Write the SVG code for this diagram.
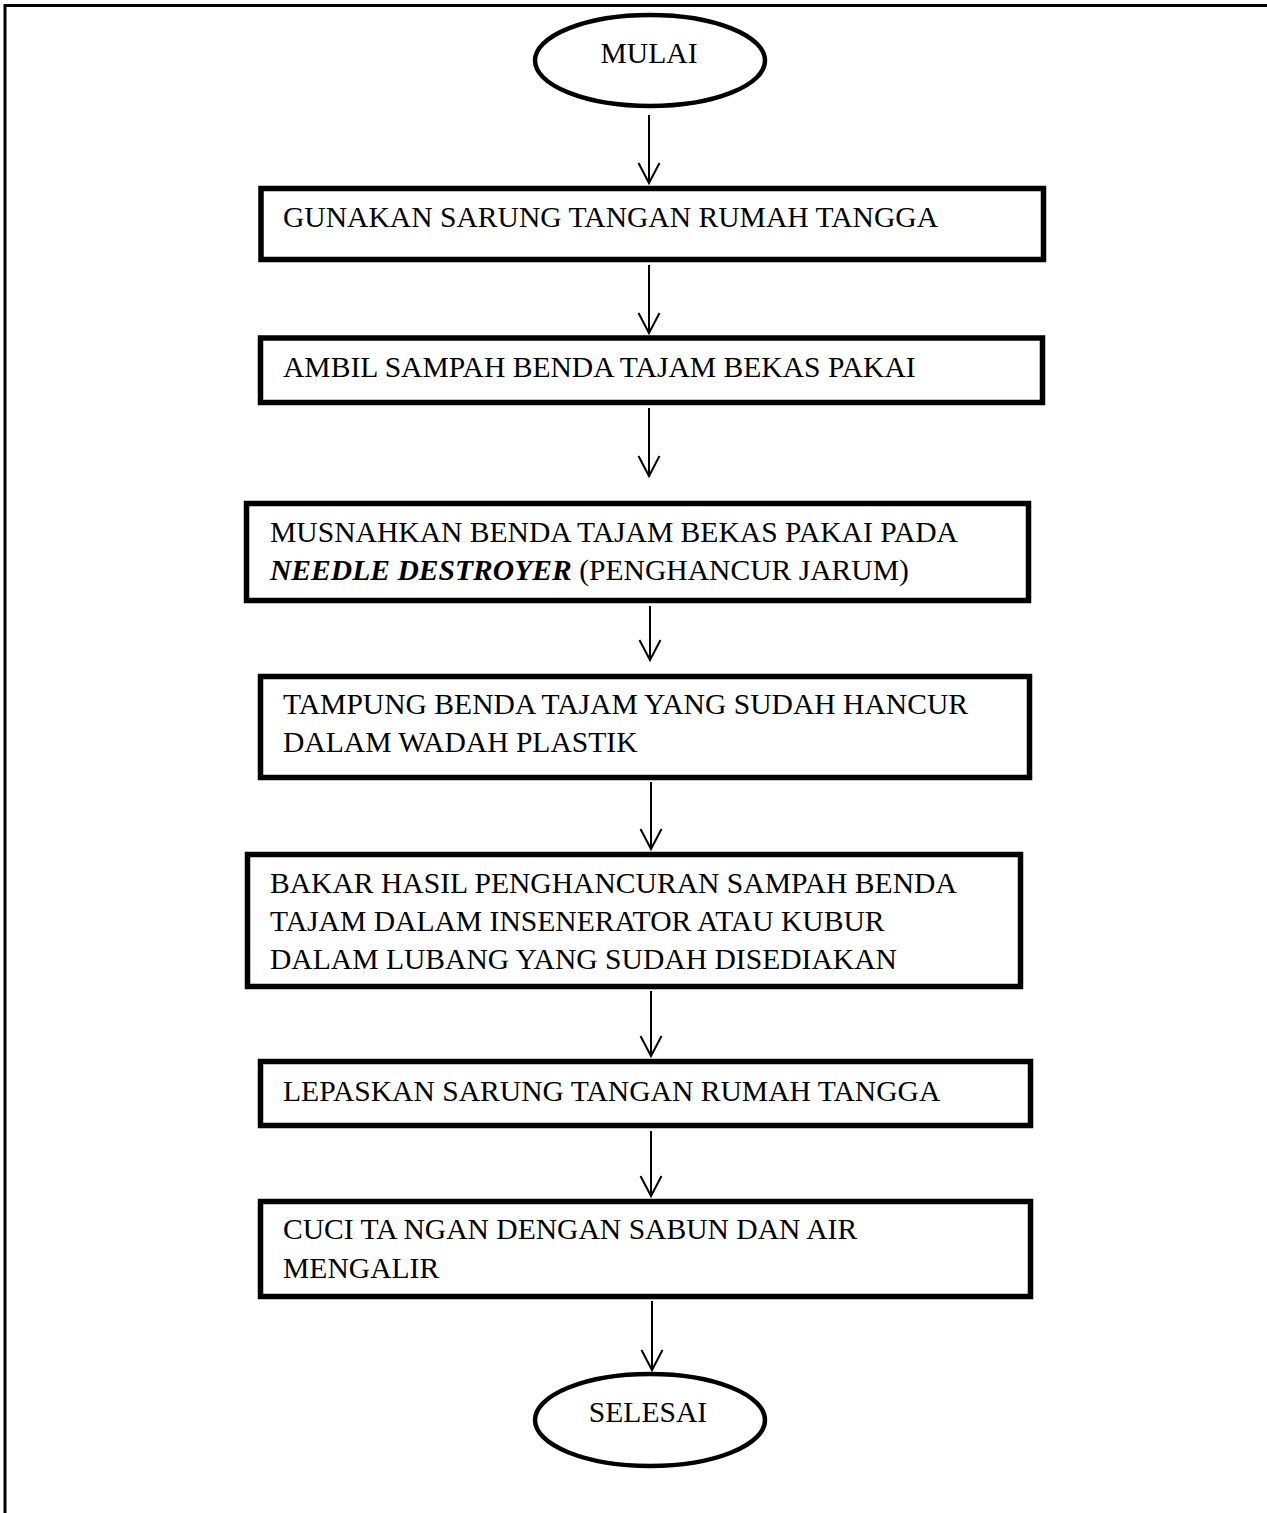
<svg xmlns="http://www.w3.org/2000/svg" width="1267" height="1513" viewBox="0 0 1267 1513">
<style>
.box{fill:#fff;stroke:#000;stroke-width:5.5}
.term{fill:#fff;stroke:#000;stroke-width:4.5}
.t{font-family:"Liberation Serif","Times New Roman",serif;font-size:29.6px;fill:#000}
.c{stroke:#000;stroke-width:2;fill:none}
.frame{stroke:#000;stroke-width:3;fill:none}
</style>
<defs>
<marker id="ah" markerUnits="userSpaceOnUse" orient="auto" refX="0" refY="0" markerWidth="30" markerHeight="30" overflow="visible">
<path d="M-20,-10.5 L0,0 L-20,10.5" fill="none" stroke="#000" stroke-width="2"/>
</marker>
</defs>
<rect width="1267" height="1513" fill="#fff"/>
<path class="frame" d="M5,1513 L5,5.5 L1267,5.5"/>
<g id="connectors">
<line class="c" x1="649" y1="115" x2="649" y2="183" marker-end="url(#ah)"/>
<line class="c" x1="649" y1="265" x2="649" y2="333" marker-end="url(#ah)"/>
<line class="c" x1="649" y1="408" x2="649" y2="476" marker-end="url(#ah)"/>
<line class="c" x1="650" y1="606" x2="650" y2="660" marker-end="url(#ah)"/>
<line class="c" x1="651" y1="782" x2="651" y2="849" marker-end="url(#ah)"/>
<line class="c" x1="651" y1="991" x2="651" y2="1056" marker-end="url(#ah)"/>
<line class="c" x1="651" y1="1131" x2="651" y2="1196" marker-end="url(#ah)"/>
<line class="c" x1="652" y1="1301" x2="652" y2="1370" marker-end="url(#ah)"/>
</g>
<g id="start">
<ellipse class="term" cx="650" cy="60.5" rx="115" ry="45.5"/>
<text class="t" x="649" y="63" text-anchor="middle">MULAI</text>
</g>
<g id="step1">
<rect class="box" x="261" y="188.5" width="782.5" height="71"/>
<text class="t" x="283" y="227">GUNAKAN SARUNG TANGAN RUMAH TANGGA</text>
</g>
<g id="step2">
<rect class="box" x="260.5" y="338" width="782" height="64.5"/>
<text class="t" x="283" y="377">AMBIL SAMPAH BENDA TAJAM BEKAS PAKAI</text>
</g>
<g id="step3">
<rect class="box" x="246.5" y="503.5" width="782" height="97"/>
<text class="t" x="270" y="542">MUSNAHKAN BENDA TAJAM BEKAS PAKAI PADA</text>
<text class="t" x="270" y="580"><tspan font-weight="bold" font-style="italic">NEEDLE DESTROYER</tspan> (PENGHANCUR JARUM)</text>
</g>
<g id="step4">
<rect class="box" x="260.5" y="676.5" width="769" height="101"/>
<text class="t" x="283" y="714">TAMPUNG BENDA TAJAM YANG SUDAH HANCUR</text>
<text class="t" x="283" y="752">DALAM WADAH PLASTIK</text>
</g>
<g id="step5">
<rect class="box" x="247.5" y="854.5" width="773" height="132"/>
<text class="t" x="270" y="893">BAKAR HASIL PENGHANCURAN SAMPAH BENDA</text>
<text class="t" x="270" y="931">TAJAM DALAM INSENERATOR ATAU KUBUR</text>
<text class="t" x="270" y="969">DALAM LUBANG YANG SUDAH DISEDIAKAN</text>
</g>
<g id="step6">
<rect class="box" x="260.5" y="1061.5" width="770" height="64"/>
<text class="t" x="283" y="1101">LEPASKAN SARUNG TANGAN RUMAH TANGGA</text>
</g>
<g id="step7">
<rect class="box" x="260.5" y="1201.5" width="770" height="95"/>
<text class="t" x="283" y="1239">CUCI TA NGAN DENGAN SABUN DAN AIR</text>
<text class="t" x="283" y="1278">MENGALIR</text>
</g>
<g id="end">
<ellipse class="term" cx="650" cy="1420" rx="115" ry="46"/>
<text class="t" x="648" y="1422" text-anchor="middle">SELESAI</text>
</g>
</svg>
